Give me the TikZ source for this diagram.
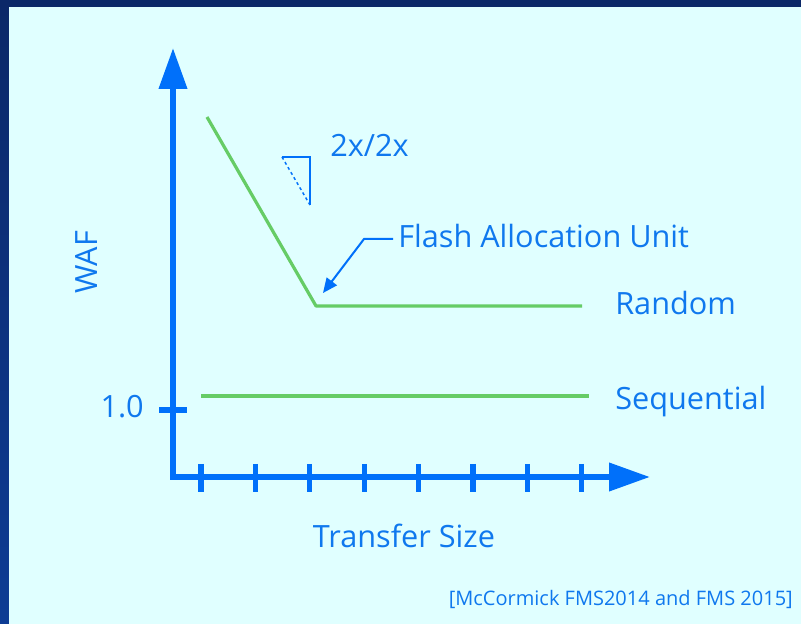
\documentclass[tikz,border=0pt]{standalone}
\usepackage{fontspec}
\setmainfont{Open Sans}
\usetikzlibrary{arrows.meta}
\definecolor{frame}{HTML}{0B2868}
\definecolor{framelow}{HTML}{0D3C94}
\definecolor{panel}{HTML}{E0FFFF}
\definecolor{axisblue}{HTML}{0070FA}
\definecolor{textblue}{HTML}{0F78EE}
\definecolor{curve}{HTML}{66CC66}
\tikzset{
  axisline/.style={draw=axisblue, line width=4.5pt,
    -{Triangle[length=30.75pt, width=20.5pt]}},
  tickmark/.style={draw=axisblue, line width=4pt},
  curveline/.style={draw=curve, line width=2.4pt, line join=round},
  leader/.style={draw=axisblue, line width=1.5pt,
    -{Triangle[length=11pt, width=9.5pt]}},
  slopebox/.style={draw=axisblue, line width=1.1pt},
  lbl/.style={text=textblue, inner sep=0pt, font=\fontsize{23}{27}\selectfont},
  cite/.style={text=textblue, inner sep=0pt, font=\fontsize{15}{18}\selectfont},
}
\begin{document}
\begin{tikzpicture}[x=0.75pt, y=-0.75pt]
  % frame and panel
  \shade[top color=frame, bottom color=framelow] (0,0) rectangle (801,624);
  \fill[panel] (9,7) rectangle (801,624);
  \useasboundingbox (0,0) rectangle (801,624);

  % axes
  \coordinate (origin) at (173,477);
  \coordinate (ytip) at (173,48);
  \coordinate (xtip) at (650,477);
  \draw[axisline] (173,480) -- (ytip);
  \draw[axisline] (170,477) -- (xtip);

  % ticks on the transfer-size axis
  \foreach \i in {0,...,7} {
    \draw[tickmark] ({201+54.4*\i},464) -- ({201+54.4*\i},492);
  }
  % tick for WAF = 1.0
  \coordinate (onetick) at (159,410);
  \draw[tickmark] (onetick) -- (187,410);

  % curves
  \coordinate (rstart) at (207,117);
  \coordinate (knee) at (316,306);
  \coordinate (rend) at (582,306);
  \draw[curveline] (rstart) -- (knee) -- (rend);
  \coordinate (sstart) at (201,396);
  \coordinate (send) at (589,396);
  \draw[curveline] (sstart) -- (send);

  % slope triangle
  \coordinate (ta) at (282,157);
  \coordinate (tb) at (310,157);
  \coordinate (tc) at (310,205);
  \draw[slopebox] (ta) -- (tb) -- (tc);
  \draw[slopebox, dash pattern=on 2.2pt off 2.2pt] (ta) -- (tc);

  % labels
  \node[lbl, anchor=base west] (slope) at (330,157) {2x/2x};
  \node[lbl, anchor=base west] (fau) at (398,248) {Flash Allocation Unit};
  \node[lbl, anchor=base west] (random) at (615,315) {Random};
  \node[lbl, anchor=base west] (seq) at (615,410) {Sequential};
  \node[lbl, anchor=base east] (one) at (144,417) {1.0};
  \node[lbl, anchor=base, rotate=90] (waf) at (97,262) {WAF};
  \node[lbl, anchor=base] (xsize) at (404,547) {Transfer Size};
  \node[cite, anchor=base east] (src) at (793,605) {[McCormick FMS2014 and FMS 2015]};

  % leader from the label to the knee
  \coordinate (bend) at (364,239);
  \draw[leader] (fau.west |- bend) ++(-5,0) -- (bend) -- (323,293);
\end{tikzpicture}
\end{document}
